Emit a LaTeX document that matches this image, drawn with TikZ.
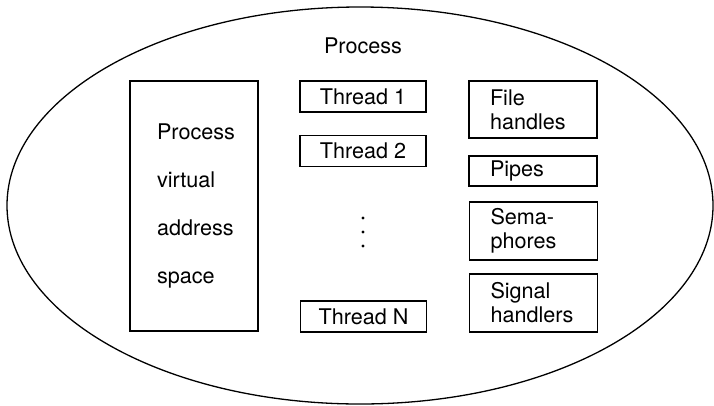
\documentclass[tikz,border=0pt]{standalone}
\usepackage{fontspec}
\setmainfont{TeX Gyre Heros}
\usetikzlibrary{shapes.geometric}
\begin{document}
\begin{tikzpicture}[x=1pt,y=-1pt,
  lw/.style={line width=1.3pt},
  txt/.style={font=\fontsize{21.6}{24}\selectfont},
  box/.style={draw, lw, txt, rectangle, inner sep=0pt, align=left},
  tbox/.style={box, minimum width=126pt, minimum height=31pt, align=center},
  rbox/.style={box, minimum width=128pt, text width=86pt},
  dot/.style={circle, fill, inner sep=0pt, minimum size=3.2pt}]
\useasboundingbox (0,0) rectangle (714,405);
\node[ellipse, draw, lw, minimum width=706pt, minimum height=397pt, inner sep=0pt] (proc) at (360,205.5) {};
\node[txt] (title) at (363,46) {Process};
\node[box, minimum width=128pt, minimum height=250pt, text width=74pt] (vas) at (194,206)
  {Process\\[24pt]virtual\\[24pt]address\\[24pt]space};
\node[tbox] (t1) at (363,96.5) {Thread 1};
\node[tbox] (t2) at (363,151) {Thread 2};
\node[tbox] (tn) at (363.5,316.5) {Thread N};
\node[dot] (d1) at (363,218) {};
\node[dot] (d2) at (363,232) {};
\node[dot] (d3) at (363,246) {};
\node[rbox, minimum height=57pt] (fh) at (533,109.5) {File\\handles};
\node[rbox, minimum height=30pt] (pp) at (533,171) {Pipes};
\node[rbox, minimum height=58pt] (sem) at (533.5,231) {Sema-\\phores};
\node[rbox, minimum height=58pt] (sig) at (533.5,303) {Signal\\handlers};
\end{tikzpicture}
\end{document}
